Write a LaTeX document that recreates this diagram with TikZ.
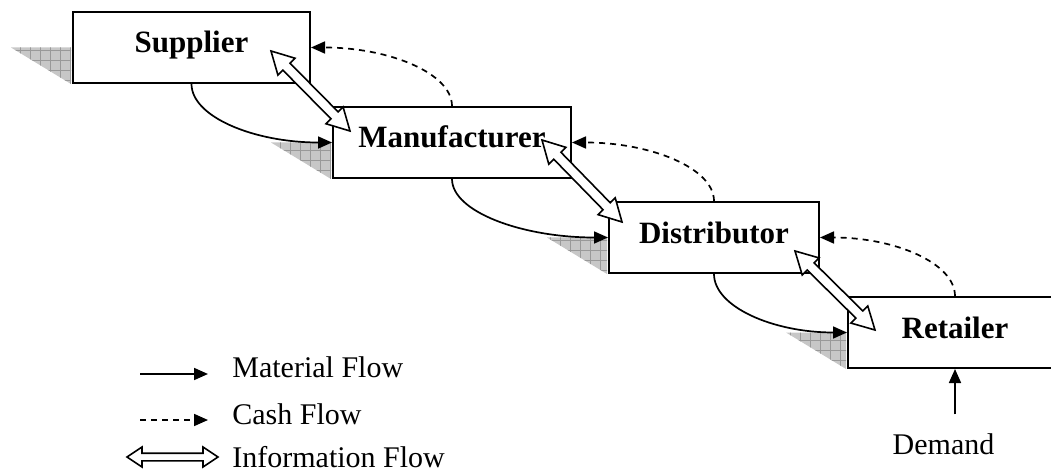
\documentclass[tikz,border=0pt]{standalone}
\usepackage{fontspec}
\setmainfont{Liberation Serif}
\usetikzlibrary{arrows.meta,calc}
\tikzset{
  stage/.style={draw, line width=1pt, fill=white, inner sep=0pt, minimum height=35.5pt,
    font=\bfseries\fontsize{15.5}{18}\selectfont, text height=5.5pt, text depth=0pt},
  plain/.style={inner sep=0pt, font=\fontsize{15}{18}\selectfont},
  material/.style={line width=0.85pt, -{Triangle[length=7pt,width=6pt]}},
  cash/.style={line width=0.85pt, dash pattern=on 3pt off 2.5pt, -{Triangle[length=7pt,width=6pt]}},
  infoflow/.style={line width=0.8pt, fill=white, line join=miter},
  shadefill/.style={fill=black!22},
  shadegrid/.style={draw=black!40, line width=0.3pt},
}
\newcommand\stageshadow[1]{%
  \begin{scope}
    \clip ($(#1.west)+(-61,0)$) -- ($(#1.west)+(-1,0)$) -- ($(#1.south west)+(-1,0)$) -- cycle;
    \fill[shadefill] ($(#1.south west)+(-63,-1)$) rectangle ($(#1.west)+(1,1)$);
    \draw[shadegrid, step=5pt] ($(#1.south west)+(-63,-1)$) grid ($(#1.west)+(1,1)$);
  \end{scope}}
\newcommand\dblarrow[5]{%
  \draw[infoflow] (#1) -- ($(#1)!#3!(#2)!#4!90:(#2)$) -- ($(#1)!#3!(#2)!#5!90:(#2)$)
    -- ($(#2)!#3!(#1)!#5!-90:(#1)$) -- ($(#2)!#3!(#1)!#4!-90:(#1)$) -- (#2)
    -- ($(#2)!#3!(#1)!#4!90:(#1)$) -- ($(#2)!#3!(#1)!#5!90:(#1)$)
    -- ($(#1)!#3!(#2)!#5!-90:(#2)$) -- ($(#1)!#3!(#2)!#4!-90:(#2)$) -- cycle;}
\begin{document}
\begin{tikzpicture}[x=0.5pt,y=0.5pt]
\useasboundingbox (0,0) rectangle (1051,-476);

% stages
\node[stage, minimum width=118.5pt] (S) at (191.5,-47.5) {Supplier};
\node[stage, minimum width=119pt]   (M) at (452,-142.5) {Manufacturer};
\node[stage, minimum width=105pt]   (D) at (714,-237.5) {Distributor};
\node[stage, minimum width=107pt]   (R) at (955,-332.5) {Retailer};

\stageshadow{S}
\stageshadow{M}
\stageshadow{D}
\stageshadow{R}

% material flow
\draw[material] (S.south) to[out=-90,in=180,out distance=16.4pt,in distance=39pt] (M.west);
\draw[material] (M.south) to[out=-90,in=180,out distance=16.4pt,in distance=43pt] (D.west);
\draw[material] (D.south) to[out=-90,in=180,out distance=16.4pt,in distance=37pt] (R.west);

% cash flow
\draw[cash] (M.north) to[out=90,in=0,out distance=16.4pt,in distance=39pt] (S.east);
\draw[cash] (D.north) to[out=90,in=0,out distance=16.4pt,in distance=39.5pt] (M.east);
\draw[cash] (R.north) to[out=90,in=0,out distance=16.4pt,in distance=37.5pt] (D.east);

% information flow
\coordinate (i1a) at (271,-51);  \coordinate (i1b) at (350,-131);
\coordinate (i2a) at (542,-140); \coordinate (i2b) at (622,-222);
\coordinate (i3a) at (795,-251); \coordinate (i3b) at (875,-330);
\dblarrow{i1a}{i1b}{11pt}{6pt}{2.5pt}
\dblarrow{i2a}{i2b}{11pt}{6pt}{2.5pt}
\dblarrow{i3a}{i3b}{11pt}{6pt}{2.5pt}

% demand
\node[plain, anchor=base] (demand) at (943.5,-454) {Demand};
\draw[material] ($(demand.north -| R.south)+(0,18.5)$) -- (R.south);

% legend
\node[plain, anchor=base west] (lmat)  at (232,-378) {Material Flow};
\node[plain, anchor=base west] (lcash) at (232,-424) {Cash Flow};
\node[plain, anchor=base west] (linfo) at (232,-467) {Information Flow};
\coordinate (mA) at (140,-374); \coordinate (mB) at (208,-374);
\coordinate (cA) at (140,-420); \coordinate (cB) at (208,-420);
\coordinate (iA) at (127,-457); \coordinate (iB) at (218,-457);
\draw[material] (mA) -- (mB);
\draw[cash] (cA) -- (cB);
\dblarrow{iA}{iB}{7.5pt}{5pt}{1.9pt}
\end{tikzpicture}
\end{document}
